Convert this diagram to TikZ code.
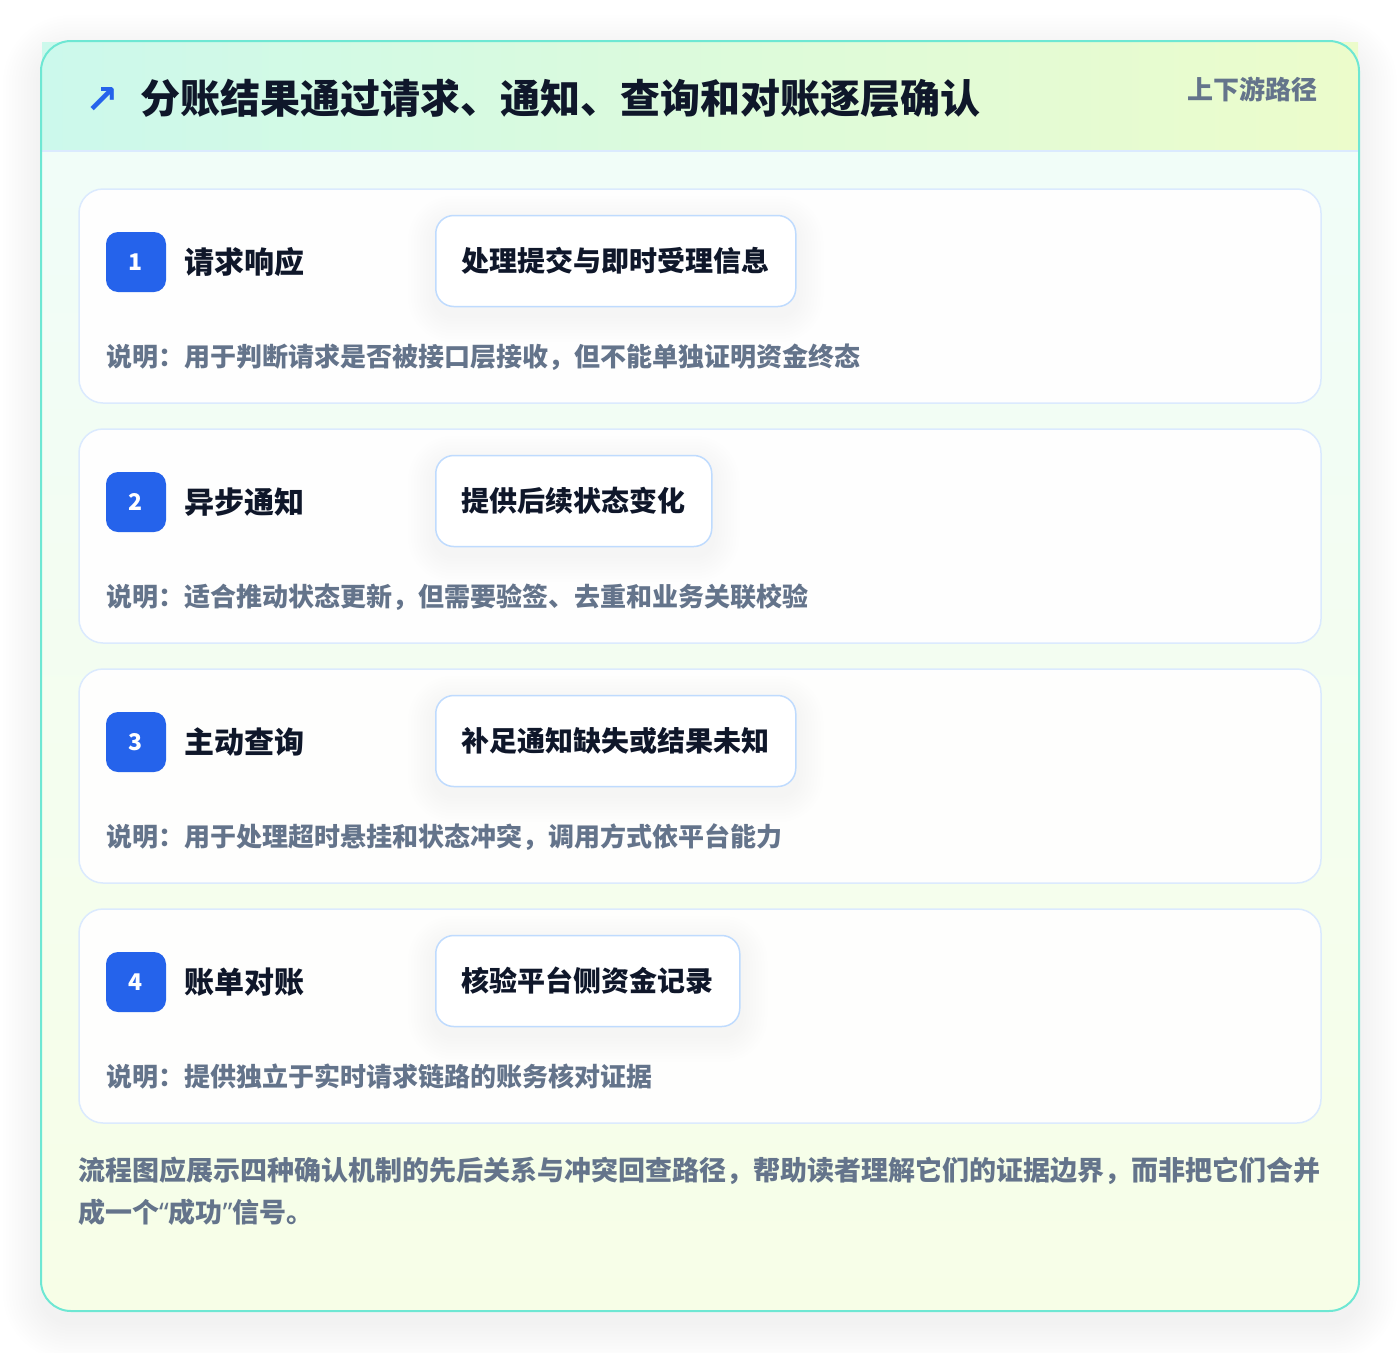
\documentclass[tikz,border=0pt]{standalone}
\usepackage{fontspec}
\setmainfont{Noto Sans CJK SC}
\newfontfamily\symfont{DejaVu Sans}
\newfontfamily\latinfont{Noto Sans}
\usetikzlibrary{positioning}

\definecolor{ink}{HTML}{0F172A}
\definecolor{slate}{HTML}{64748B}
\definecolor{badgeblue}{HTML}{2563EB}
\definecolor{frameteal}{HTML}{6EE7D3}
\definecolor{cardline}{HTML}{DBEAFE}
\definecolor{pillline}{HTML}{BFDBFE}
\definecolor{hdleft}{HTML}{CCF9EC}
\definecolor{hdright}{HTML}{ECFCCB}
\definecolor{bodytop}{HTML}{F0FDFA}
\definecolor{bodybottom}{HTML}{F7FEE7}

\pgfdeclarelayer{frame}
\pgfdeclarelayer{cards}
\pgfdeclarelayer{glow}
\pgfsetlayers{frame,cards,glow,main}

\tikzset{
  card/.style={draw=cardline, line width=1.5pt, rounded corners=24pt, fill=white, fill opacity=0.93, text opacity=1,
    minimum width=1242pt, minimum height=214pt, inner sep=0pt},
  badge/.style={fill=badgeblue, rounded corners=12pt, minimum size=60pt, inner sep=0pt, text=white,
    font=\fontsize{23}{26}\selectfont\bfseries},
  steptitle/.style={anchor=west, inner sep=0pt, text=ink, font=\fontsize{30}{36}\selectfont\bfseries},
  pill/.style={draw=pillline, line width=1.5pt, fill=white, rounded corners=18pt, minimum height=91pt,
    inner xsep=26pt, anchor=west, text=ink, font=\fontsize{28}{32}\selectfont\bfseries},
  glowlayer/.style={fill=black, fill opacity=0.0045, rounded corners=#1},
  note/.style={anchor=west, inner sep=0pt, text=slate, font=\fontsize{26}{30}\selectfont\bfseries}
}

\begin{document}
\begin{tikzpicture}[x=1pt, y=-1pt]
    \useasboundingbox (0,0) rectangle (1400,1352);

    \begin{pgfonlayer}{frame}
      % Soft shadow under the frame
      \foreach \s in {2,5,...,38}
        \fill[black, fill opacity=0.005, rounded corners=30pt+\s pt] (41-\s,41-\s+12) rectangle (1359+\s,1311+\s+12);
      % Outer frame
      \path[top color=bodytop, bottom color=bodybottom, rounded corners=30pt] (41,41) rectangle (1359,1311);
      \shade[left color=hdleft, right color=hdright] (42,42) rectangle (1358,150);
      \draw[cardline, line width=1.5pt] (42,151) -- (1358,151);
      \draw[frameteal, line width=2pt, rounded corners=30pt] (41,41) rectangle (1359,1311);
    \end{pgfonlayer}

    % Header
    \node[text=badgeblue, font=\symfont\bfseries\fontsize{40}{44}\selectfont, inner sep=0pt] (icon) at (102,100) {↗};
    \node[anchor=west, inner sep=0pt, text=ink, font=\fontsize{40}{46}\selectfont\bfseries] (heading) at (140,98)
      {分账结果通过请求、通知、查询和对账逐层确认};
    \node[anchor=east, inner sep=0pt, text=slate, font=\fontsize{26}{30}\selectfont\bfseries] (tag) at (1318,89) {上下游路径};

    % Step cards
    \begin{pgfonlayer}{cards}
      \node[card] (card1) at (700,296) {};
      \node[card] (card2) at (700,536) {};
      \node[card] (card3) at (700,776) {};
      \node[card] (card4) at (700,1016) {};
    \end{pgfonlayer}

    % Step 1
    \node[badge] (badge1) at (136,262) {1};
    \node[steptitle, right=18pt of badge1] (title1) {请求响应};
    \node[pill] (pill1) at (435,261) {处理提交与即时受理信息};
    \node[note] (note1) at (106,357) {说明：用于判断请求是否被接口层接收，但不能单独证明资金终态};

    % Step 2
    \node[badge] (badge2) at (136,502) {2};
    \node[steptitle, right=18pt of badge2] (title2) {异步通知};
    \node[pill] (pill2) at (435,501) {提供后续状态变化};
    \node[note] (note2) at (106,597) {说明：适合推动状态更新，但需要验签、去重和业务关联校验};

    % Step 3
    \node[badge] (badge3) at (136,742) {3};
    \node[steptitle, right=18pt of badge3] (title3) {主动查询};
    \node[pill] (pill3) at (435,741) {补足通知缺失或结果未知};
    \node[note] (note3) at (106,837) {说明：用于处理超时悬挂和状态冲突，调用方式依平台能力};

    % Step 4
    \node[badge] (badge4) at (136,982) {4};
    \node[steptitle, right=18pt of badge4] (title4) {账单对账};
    \node[pill] (pill4) at (435,981) {核验平台侧资金记录};
    \node[note] (note4) at (106,1077) {说明：提供独立于实时请求链路的账务核对证据};

    % Glow round the pills
    \begin{pgfonlayer}{glow}
      \foreach \p in {pill1,pill2,pill3,pill4}
        \foreach \s in {3,6,...,27}
          \path[glowlayer=18pt+\s pt] ([xshift=-\s pt, yshift=\s pt-8pt]\p.north west) rectangle ([xshift=\s pt, yshift=-\s pt-8pt]\p.south east);
    \end{pgfonlayer}

    % Footer
    \node[anchor=north west, inner sep=0pt, align=left, text=slate, font=\fontsize{27}{42}\selectfont\bfseries] (footer) at (78,1157)
      {流程图应展示四种确认机制的先后关系与冲突回查路径，帮助读者理解它们的证据边界，而非把它们合并\\成一个{\latinfont “}成功{\latinfont ”}信号。};
\end{tikzpicture}
\end{document}
